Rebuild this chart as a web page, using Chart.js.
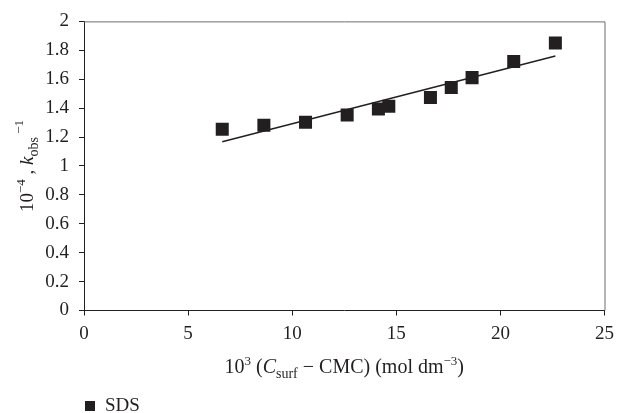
<!DOCTYPE html>
<html>
<head>
<meta charset="utf-8">
<script src="https://cdn.jsdelivr.net/npm/chart.js@4"></script>
<style>
html,body{margin:0;padding:0;background:#fff;}
#wrap{width:621px;height:413px;position:relative;}
</style>
</head>
<body>
<div id="wrap"><canvas id="c" width="621" height="413"></canvas></div>
<script>
// Data
const seriesName = "SDS";
const concValues = [6.64, 8.64, 10.64, 12.64, 14.14, 14.64, 16.64, 17.64, 18.64, 20.64, 22.64];
const kobsValues = [1.254, 1.282, 1.302, 1.353, 1.394, 1.413, 1.473, 1.542, 1.611, 1.722, 1.851];
const trendX = [6.64, 22.64];
const trendY = [1.168, 1.761];
const xTickLabels = ["0", "5", "10", "15", "20", "25"];
const yTickLabels = ["0", "0.2", "0.4", "0.6", "0.8", "1", "1.2", "1.4", "1.6", "1.8", "2"];

const FONT = "'Liberation Serif', 'DejaVu Serif', serif";
const INK = "#231f20";

function drawRich(ctx, segs, x, y, align) {
  let total = 0;
  segs.forEach(s => {
    ctx.font = (s.italic ? "italic " : "") + s.size + "px " + FONT;
    s.w = ctx.measureText(s.t).width;
    total += s.w;
  });
  let cx = align === "center" ? x - total / 2 : x;
  segs.forEach(s => {
    ctx.font = (s.italic ? "italic " : "") + s.size + "px " + FONT;
    ctx.fillText(s.t, cx, y + (s.dy || 0));
    cx += s.w;
  });
}

const decor = {
  id: "decor",
  afterDraw(chart) {
    const ctx = chart.ctx;
    const a = chart.chartArea;
    ctx.save();
    ctx.strokeStyle = "#6d6e70";
    ctx.lineWidth = 1;
    ctx.beginPath();
    ctx.moveTo(a.left, a.top + 0.5);
    ctx.lineTo(a.right + 0.5, a.top + 0.5);
    ctx.lineTo(a.right + 0.5, a.bottom);
    ctx.stroke();

    ctx.fillStyle = INK;
    ctx.textBaseline = "alphabetic";
    ctx.textAlign = "left";
    const xc = (a.left + a.right) / 2;
    drawRich(ctx, [
      {t: "10", size: 20},
      {t: "3", size: 13, dy: -8},
      {t: " (", size: 20},
      {t: "C", size: 20, italic: true},
      {t: "surf", size: 14, dy: 5},
      {t: " \u2212 CMC) (mol dm", size: 20},
      {t: "\u22123", size: 13, dy: -8},
      {t: ")", size: 20}
    ], xc, 373, "center");

    const yc = (a.top + a.bottom) / 2;
    ctx.save();
    ctx.translate(33, yc);
    ctx.rotate(-Math.PI / 2);
    drawRich(ctx, [
      {t: "10", size: 19},
      {t: "\u22124", size: 13, dy: -8},
      {t: " , ", size: 19},
      {t: "k", size: 19, italic: true},
      {t: "obs", size: 14, dy: 5},
      {t: " \u22121", size: 13, dy: -10}
    ], 0, 0, "center");
    ctx.restore();

    ctx.fillStyle = INK;
    ctx.fillRect(85, 401, 10, 10);
    ctx.font = "19px " + FONT;
    ctx.fillText(seriesName, 105, 411);
    ctx.restore();
  }
};

new Chart(document.getElementById("c"), {
  type: "scatter",
  data: {
    datasets: [
      {
        label: seriesName,
        data: concValues.map((x, i) => ({x: x, y: kobsValues[i]})),
        pointStyle: "rect",
        pointRadius: 9.2,
        pointHoverRadius: 9.2,
        backgroundColor: INK,
        borderColor: INK,
        borderWidth: 0,
        order: 1
      },
      {
        label: "trend",
        data: trendX.map((x, i) => ({x: x, y: trendY[i]})),
        showLine: true,
        pointRadius: 0,
        borderColor: INK,
        borderWidth: 1.5,
        order: 2
      }
    ]
  },
  plugins: [decor],
  options: {
    responsive: false,
    animation: false,
    events: [],
    layout: {padding: {left: 0, right: 12, top: 21, bottom: 0}},
    plugins: {legend: {display: false}, tooltip: {enabled: false}},
    scales: {
      x: {
        type: "linear",
        min: 0, max: 25,
        afterBuildTicks(axis) { axis.ticks = xTickLabels.map(v => ({value: Number(v)})); },
        afterFit(axis) { axis.height = 102.5; },
        ticks: {
          callback: (v) => xTickLabels[xTickLabels.indexOf(String(v))],
          color: INK, padding: 7, maxRotation: 0,
          font: {family: FONT, size: 19}
        },
        grid: {display: true, drawOnChartArea: false, drawTicks: true, tickLength: 5, color: INK},
        border: {display: true, color: INK, width: 1}
      },
      y: {
        type: "linear",
        min: 0, max: 2,
        afterBuildTicks(axis) { axis.ticks = yTickLabels.map(v => ({value: Number(v)})); },
        afterFit(axis) { axis.width = 84; },
        ticks: {
          callback: (v) => yTickLabels.find(s => Math.abs(Number(s) - v) < 1e-9),
          color: INK, padding: 10,
          font: {family: FONT, size: 19}
        },
        grid: {display: true, drawOnChartArea: false, drawTicks: true, tickLength: 5, color: INK},
        border: {display: true, color: INK, width: 1}
      }
    }
  }
});
</script>
</body>
</html>
